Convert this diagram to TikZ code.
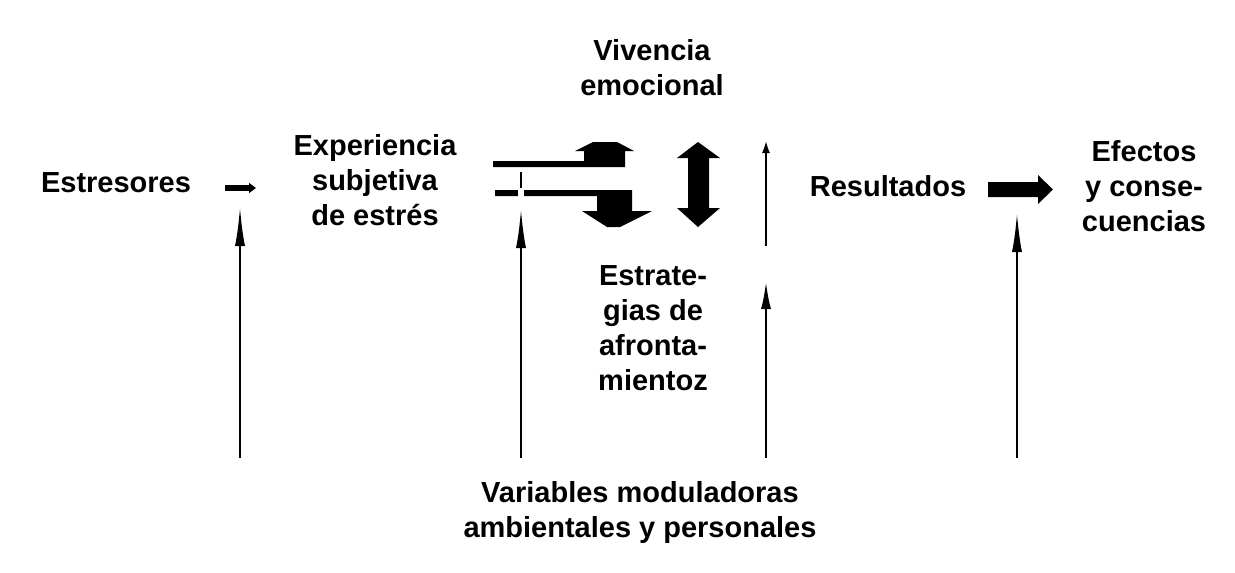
\documentclass[tikz,border=0pt]{standalone}
\usepackage{fontspec}
\setmainfont{Liberation Sans}
\usetikzlibrary{arrows.meta}
\begin{document}
\begin{tikzpicture}[x=1pt,y=-1pt,
  lbl/.style={font=\bfseries\fontsize{29}{35}\selectfont, align=center, inner sep=0pt},
  vline/.style={line width=2.6pt, -{Latex[length=40pt,width=10pt]}},
  vshort/.style={line width=2.6pt, -{Latex[length=28pt,width=10pt]}},
  vtiny/.style={line width=2.6pt, -{Latex[length=13pt,width=8pt]}},
  block/.style={fill=black, draw=none}]
\useasboundingbox (0,0) rectangle (1235,573);
\fill[white] (0,0) rectangle (1235,573);

\node[lbl] (est) at (116,183) {Estresores};
\node[lbl] (exp) at (375,180) {Experiencia\\subjetiva\\de estrés};
\node[lbl] (viv) at (652,68) {Vivencia\\emocional};
\node[lbl] (afr) at (653,328) {Estrate-\\gias de\\afronta-\\mientoz};
\node[lbl] (res) at (888,186) {Resultados};
\node[lbl] (efe) at (1144,186) {Efectos\\y conse-\\cuencias};
\node[lbl] (var) at (640,512) {Variables moduladoras\\ambientales y personales};

% small arrow Estresores -> Experiencia
\coordinate (s1) at (225,188);
\coordinate (s2) at (256,188);
\draw[line width=6pt, -{Triangle[length=7pt,width=10pt]}] (s1) -- (s2);

% vertical arrows from the moderating variables
\coordinate (b1) at (240,458); \coordinate (t1) at (240,206);
\coordinate (b2) at (521,458); \coordinate (t2) at (521,208);
\coordinate (b3) at (766,458); \coordinate (t3) at (766,281);
\coordinate (b4) at (766,246); \coordinate (t4) at (766,140);
\coordinate (b5) at (1017,458); \coordinate (t5) at (1017,212);
\draw[vline] (b1) -- (t1);
\draw[vline] (b2) -- (t2);
\draw[vshort] (b3) -- (t3);
\draw[vtiny] (b4) -- (t4);
\draw[vline] (b5) -- (t5);

% upper bar with up arrow
\fill[block] (493,161) -- (584,161) -- (584,151) -- (575,151) -- (593,142) -- (617,142)
  -- (634,151) -- (625,151) -- (625,167) -- (493,167) -- cycle;
% lower bar with down arrow
\fill[block] (495,190) -- (632,190) -- (632,211) -- (652,211) -- (620,227) -- (607,227)
  -- (582,211) -- (597,211) -- (597,196) -- (495,196) -- cycle;
\fill[white] (518,189) rectangle (524,197);
\draw[line width=2pt] (521,172) -- (521,188);

% double arrow
\fill[block] (698,142) -- (720,158) -- (709,158) -- (709,208) -- (720,208) -- (698,227)
  -- (677,208) -- (688,208) -- (688,158) -- (677,158) -- cycle;

% Resultados -> Efectos block arrow
\fill[block] (988,182) -- (1038,182) -- (1038,175) -- (1053,189.5) -- (1038,204)
  -- (1038,197) -- (988,197) -- cycle;
\end{tikzpicture}
\end{document}
